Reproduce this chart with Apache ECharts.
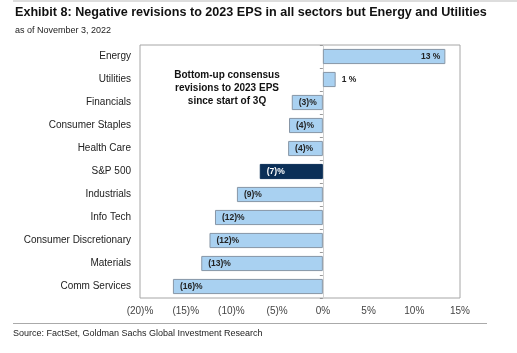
<!DOCTYPE html>
<html><head><meta charset="utf-8">
<script src="https://cdn.jsdelivr.net/npm/echarts@6/dist/echarts.min.js"></script>
<style>html,body{margin:0;padding:0;background:#fff}#c{width:517px;height:353px}</style>
</head><body><div id="c"></div>
<script>
const categories = ["Energy","Utilities","Financials","Consumer Staples","Health Care","S&P 500","Industrials","Info Tech","Consumer Discretionary","Materials","Comm Services"];
const values = [13.4, 1.4, -3.4, -3.7, -3.8, -6.9, -9.4, -11.8, -12.4, -13.3, -16.4];
const highlight = "S&P 500";
const xTicks = {min: -20, max: 15, interval: 5};

const fmtPct = v => v < 0 ? "(" + Math.round(-v) + ")%" : Math.round(v) + "%";
const fmtLabel = v => v < 0 ? "(" + Math.round(-v) + ")%" : Math.round(v) + " %";

const GL = 140, GR = 57, W = 517;
const plotW = W - GL - GR;
const zeroOffset = -plotW * (0 - xTicks.min) / (xTicks.max - xTicks.min);

const chart = echarts.init(document.getElementById('c'), null, {renderer: 'canvas'});
const FONT = "Liberation Sans, Arial, sans-serif";
const data = values.map((v, i) => {
  const hl = categories[i] === highlight;
  let pos = v < 0 ? 'insideLeft' : (v > 5 ? 'insideRight' : 'right');
  return {
    value: v,
    itemStyle: hl ? {color: '#0b2f57', borderColor: '#0b2f57', borderWidth: 1}
                  : {color: '#a9d1f1', borderColor: '#8796a6', borderWidth: 1},
    label: {show: true, position: pos, distance: pos === 'right' ? 6 : (pos === 'insideRight' ? 5 : 7),
            color: hl ? '#ffffff' : '#222', fontSize: 8.5, fontWeight: 'bold', fontFamily: FONT,
            formatter: p => fmtLabel(p.value)}
  };
});

chart.setOption({
  animation: false,
  textStyle: {fontFamily: FONT},
  grid: {left: GL, right: GR, top: 45, bottom: 55, show: true, borderColor: '#a6a6a6', borderWidth: 1, containLabel: false},
  xAxis: {
    type: 'value', min: xTicks.min, max: xTicks.max, interval: xTicks.interval,
    axisLine: {show: false}, axisTick: {show: false}, splitLine: {show: false},
    axisLabel: {formatter: fmtPct, color: '#444', fontSize: 10, margin: 8, fontFamily: FONT}
  },
  yAxis: [{
    type: 'category', data: categories, inverse: true, position: 'left',
    axisLine: {show: false, onZero: false}, axisTick: {show: false},
    axisLabel: {color: '#222', fontSize: 10, margin: 9, fontFamily: FONT}
  }, {
    type: 'category', data: categories, inverse: true, position: 'left', offset: zeroOffset,
    axisLine: {show: true, onZero: false, lineStyle: {color: '#d0d0d0'}},
    axisTick: {show: true, length: 3, lineStyle: {color: '#999'}},
    axisLabel: {show: false}
  }],
  series: [{
    type: 'bar', data: data, barCategoryGap: '34%', yAxisIndex: 0
  }],
  graphic: [
    {type: 'line', shape: {x1: 13, y1: 1, x2: 517, y2: 1}, style: {stroke: '#bbb', lineWidth: 1}},
    {type: 'text', left: 15, top: 6, style: {text: 'Exhibit 8: Negative revisions to 2023 EPS in all sectors but Energy and Utilities', font: 'bold 12.6px ' + FONT, fill: '#111'}},
    {type: 'text', left: 15, top: 26, style: {text: 'as of November 3, 2022', font: '9px ' + FONT, fill: '#222'}},
    {type: 'text', x: 227, y: 69, style: {text: 'Bottom-up consensus\nrevisions to 2023 EPS\nsince start of 3Q', font: 'bold 10px ' + FONT, fill: '#111', align: 'center', lineHeight: 13}},
    {type: 'line', shape: {x1: 13, y1: 323.5, x2: 487, y2: 323.5}, style: {stroke: '#aaa', lineWidth: 1}},
    {type: 'text', left: 13, top: 329, style: {text: 'Source: FactSet, Goldman Sachs Global Investment Research', font: '9px ' + FONT, fill: '#222'}}
  ]
});
</script></body></html>
